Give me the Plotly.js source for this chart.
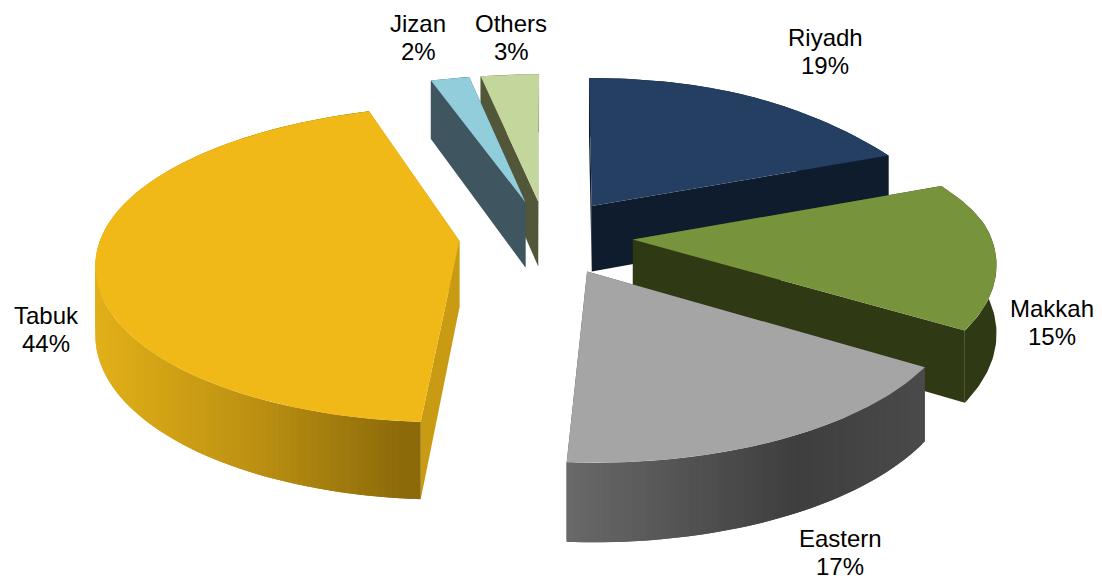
<!DOCTYPE html>
<html>
<head>
<meta charset="utf-8">
<script src="https://cdn.plot.ly/plotly-3.0.1.min.js"></script>
<style>html,body{margin:0;padding:0;background:#fff}#chart{width:1102px;height:579px}</style>
</head>
<body>
<div id="chart"></div>
<script>
// Regional shares, percent, clockwise from twelve o'clock
const regions = ["Riyadh", "Makkah", "Eastern", "Tabuk", "Jizan", "Others"];
const shares = [19, 15, 17, 44, 2, 3];

// Centre of each two-line label, in page pixels
const labelX = [825, 1052, 840, 46, 418, 511];
const labelY = [51, 322, 552, 329, 37, 37];

// Per-slice explosion distance
const explosions = [88, 87, 88, 87, 85, 85];

// Face colours per region
const topColors = ["#243F62", "#77933C", "#A5A5A5", "#F0B917", "#92CDDC", "#C3D69B"];
const cutColors = ["#0E1C2E", "#2F3A15", "#4A4A4A", "#C99B12", "#3F5660", "#53573A"];
// Rim shading: a single flat colour, or [page x, r, g, b] stops
const rimStops = [
  [[0, 14, 28, 46]],
  [[0, 47, 58, 21]],
  [[561, 107, 107, 107], [800, 62, 62, 62], [925, 74, 74, 74]],
  [[95, 226, 176, 24], [250, 190, 146, 18], [408, 140, 106, 10]],
  [[0, 63, 86, 96]],
  [[0, 83, 87, 58]]
];

// Camera model of the tilted, exploded disc
const VANISH_X = 546, HORIZON_Y = -993, CENTRE_Y = 236;
const DEPTH_BACK = 2920, DEPTH_FRONT = 2800;
const RADIUS = 358, THICK = 67, RIM_STEP = 1, BACK_RIGHT_SQUEEZE = 0.06;

function project(u, v, z) {
  const p = 1 / (1 + v / (v > 0 ? DEPTH_BACK : DEPTH_FRONT));
  let su = u;
  if (u > 0 && v > 0) su = u * (1 - BACK_RIGHT_SQUEEZE * Math.pow(Math.sin(2 * Math.atan2(u, v)), 2));
  return [VANISH_X + su * p, HORIZON_Y + (CENTRE_Y - HORIZON_Y) * p + z * p];
}
function rimColor(stops, x) {
  if (x <= stops[0][0]) return stops[0].slice(1);
  for (let i = 1; i < stops.length; i++) {
    if (x <= stops[i][0]) {
      const a = stops[i - 1], b = stops[i], t = (x - a[0]) / (b[0] - a[0]);
      return [1, 2, 3].map(k => a[k] + (b[k] - a[k]) * t);
    }
  }
  return stops[stops.length - 1].slice(1);
}
function polygon(points, color) {
  return {
    type: "scatter", mode: "lines", fill: "toself", fillcolor: color,
    x: points.map(p => p[0]), y: points.map(p => p[1]),
    line: {color: color, width: 0}, hoverinfo: "skip", showlegend: false
  };
}
const css = c => `rgb(${c.map(Math.round).join(",")})`;

const total = shares.reduce((a, b) => a + b, 0);
let running = 0;
const wedges = shares.map((s, i) => {
  const a0 = running / total * 2 * Math.PI;
  running += s;
  return {index: i, a0: a0, a1: running / total * 2 * Math.PI};
});

function wedgeTraces(w) {
  const mid = (w.a0 + w.a1) / 2;
  const e = explosions[w.index];
  const ou = e * Math.sin(mid), ov = e * Math.cos(mid);
  const rim = a => [ou + RADIUS * Math.sin(a), ov + RADIUS * Math.cos(a)];
  const out = [];
  const steps = Math.max(2, Math.ceil((w.a1 - w.a0) * 180 / Math.PI / RIM_STEP));
  const angles = [];
  for (let k = 0; k <= steps; k++) angles.push(w.a0 + (w.a1 - w.a0) * k / steps);

  // Radial cut faces
  [w.a0, w.a1].forEach(a => {
    const [u, v] = rim(a);
    out.push(polygon([
      project(ou, ov, 0), project(u, v, 0), project(u, v, THICK), project(ou, ov, THICK), project(ou, ov, 0)
    ], cutColors[w.index]));
  });

  // Rim wall: one band when flat, overlapping strips when shaded
  const band = (from, to) => {
    const part = angles.slice(from, to + 1).map(rim);
    const upper = part.map(([u, v]) => project(u, v, 0));
    const lower = part.map(([u, v]) => project(u, v, THICK)).reverse();
    return upper.concat(lower, [upper[0]]);
  };
  const stops = rimStops[w.index];
  if (stops.length === 1) {
    out.push(polygon(band(0, steps), css(stops[0].slice(1))));
  } else {
    for (let k = 0; k < steps; k++) {
      const pts = band(k, Math.min(k + 2, steps));
      out.push(polygon(pts, css(rimColor(stops, pts[0][0]))));
    }
  }

  // Top face
  const top = [project(ou, ov, 0)];
  angles.forEach(a => { const [u, v] = rim(a); top.push(project(u, v, 0)); });
  top.push(project(ou, ov, 0));
  out.push(polygon(top, topColors[w.index]));
  return out;
}

// Painter's order: back of the disc first
const drawOrder = [0, 5, 4, 1, 3, 2];
const traces = [];
drawOrder.forEach(i => traces.push(...wedgeTraces(wedges[i])));

const labelFont = {family: "Liberation Sans, Arial, sans-serif", size: 24, color: "#000"};
const annotations = [];
regions.forEach((name, i) => {
  [[name, -14], [shares[i] + "%", 14]].forEach(([text, dy]) => annotations.push({
    x: labelX[i], y: labelY[i] + dy, xref: "x", yref: "y", showarrow: false,
    xanchor: "center", yanchor: "middle", align: "center", text: text, font: labelFont
  }));
});

const hidden = {visible: false, fixedrange: true};
Plotly.newPlot("chart", traces, {
  width: 1102, height: 579,
  margin: {l: 0, r: 0, t: 0, b: 0},
  paper_bgcolor: "#fff", plot_bgcolor: "#fff",
  xaxis: Object.assign({range: [0, 1102]}, hidden),
  yaxis: Object.assign({range: [579, 0]}, hidden),
  annotations: annotations, showlegend: false
}, {staticPlot: true, displayModeBar: false});
</script>
</body>
</html>
